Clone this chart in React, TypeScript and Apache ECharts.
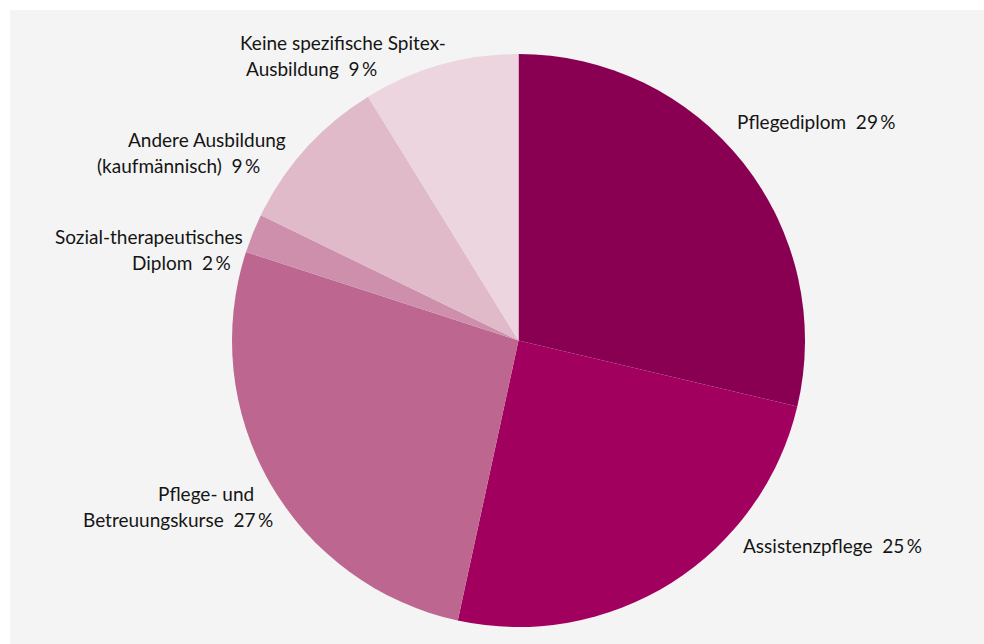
import React, { useEffect, useRef } from "react";
import * as echarts from "echarts";

const categories = [
  "Pflegediplom",
  "Assistenzpflege",
  "Pflege- und Betreuungskurse",
  "Sozial-therapeutisches Diplom",
  "Andere Ausbildung (kaufmännisch)",
  "Keine spezifische Spitex-Ausbildung",
];
const labelLines = [
  ["Pflegediplom"],
  ["Assistenzpflege"],
  ["Pflege- und", "Betreuungskurse"],
  ["Sozial-therapeutisches", "Diplom"],
  ["Andere Ausbildung", "(kaufmännisch)"],
  ["Keine spezifische Spitex-", "Ausbildung"],
];
const values = [28.7, 24.7, 26.6, 2.2, 9.0, 8.8];
const colors = ["#890052", "#a2005f", "#bd668f", "#cd8fab", "#e0bac9", "#ecd5de"];

// label placement (chart coords): left x, first-line centre y, per-line left offsets
const labelPos = [
  { x: 727, y: 111.5, off: [0] },
  { x: 733, y: 535.5, off: [0] },
  { x: 73, y: 483, off: [75, 0] },
  { x: 45, y: 226, off: [0, 77] },
  { x: 87, y: 129.5, off: [31, 0] },
  { x: 230, y: 32, off: [0, 6] },
];

const FONT = "Lato, 'Liberation Sans', sans-serif";
const FS = 19;
const LH = 26;

export default function App() {
  const ref = useRef<HTMLDivElement>(null);
  useEffect(() => {
    if (!ref.current) return;
    const chart = echarts.init(ref.current, null, { renderer: "svg" });
    const data = categories.map((name, i) => {
      const rich: Record<string, any> = {};
      labelPos[i].off.forEach((o, k) => {
        rich["l" + k] = {
          fontFamily: FONT,
          fontSize: FS,
          lineHeight: LH,
          color: "#151515",
          padding: [0, 0, 0, o],
        };
      });
      return {
        name,
        value: values[i],
        itemStyle: { color: colors[i] },
        label: { rich },
      };
    });
    chart.setOption({
      animation: false,
      backgroundColor: "#f4f4f4",
      series: [
        {
          type: "pie",
          radius: 286.5,
          center: [508.5, 330.5],
          startAngle: 90,
          clockwise: true,
          silent: true,
          data,
          label: {
            show: true,
            position: "outside",
            overflow: "none",
            fontFamily: FONT,
            fontSize: FS,
            lineHeight: LH,
            color: "#151515",
            formatter: (p: any) => {
              const lines = labelLines[p.dataIndex];
              const pct = Math.round(p.value);
              return lines
                .map((l, k) =>
                  k === lines.length - 1
                    ? `{l${k}|${l}  ${pct}\u2009%}`
                    : `{l${k}|${l}}`
                )
                .join("\n");
            },
          },
          labelLine: { show: false },
          labelLayout: (params: any) => {
            const pos = labelPos[params.dataIndex];
            return {
              x: pos.x,
              y: pos.y - LH / 2,
              align: "left",
              verticalAlign: "top",
            };
          },
        },
      ],
    });
    return () => chart.dispose();
  }, []);
  return (
    <div
      ref={ref}
      style={{ position: "fixed", left: 10, top: 10, width: 974, height: 634 }}
    />
  );
}
